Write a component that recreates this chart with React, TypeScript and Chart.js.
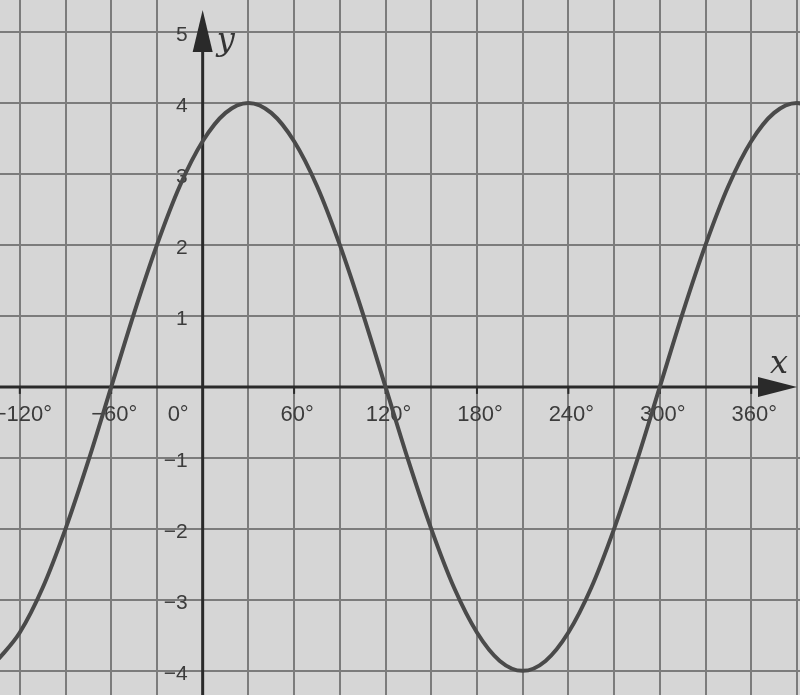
import React, { useEffect, useRef } from "react";
import { Chart, registerables } from "chart.js";

Chart.register(...registerables);

// Curve samples (degrees, y value)
const xDegrees = [-135, -120, -105, -90, -75, -60, -45, -30, -15, 0, 15, 30, 45, 60, 75, 90, 105, 120, 135, 150, 165, 180, 195, 210, 225, 240, 255, 270, 285, 300, 315, 330, 345, 360, 375, 390, 405];
const yValues = [-3.86, -3.46, -2.83, -2.0, -1.04, 0, 1.04, 2.0, 2.83, 3.46, 3.86, 4.0, 3.86, 3.46, 2.83, 2.0, 1.04, 0, -1.04, -2.0, -2.83, -3.46, -3.86, -4.0, -3.86, -3.46, -2.83, -2.0, -1.04, 0, 1.04, 2.0, 2.83, 3.46, 3.86, 4.0, 3.86];

const xTickValues = [-120, -60, 0, 60, 120, 180, 240, 300, 360];
const xTickLabels = ["\u2212120\u00b0", "\u221260\u00b0", "0\u00b0", "60\u00b0", "120\u00b0", "180\u00b0", "240\u00b0", "300\u00b0", "360\u00b0"];
const yTickValues = [5, 4, 3, 2, 1, -1, -2, -3, -4];
const yTickLabels = ["5", "4", "3", "2", "1", "\u22121", "\u22122", "\u22123", "\u22124"];

const X_MIN = -133;
const X_MAX = 392;
const Y_MIN = -4.34;
const Y_MAX = 5.45;

const BG = "#d6d6d6";
const GRID = "#7c7c7c";
const AXIS = "#2a2a2a";
const CURVE = "#4a4a4a";
const TEXT = "#3c3c3c";

const decorPlugin = {
  id: "decor",
  beforeDraw(chart: any) {
    const { ctx, width, height } = chart;
    ctx.save();
    ctx.fillStyle = BG;
    ctx.fillRect(0, 0, width, height);
    ctx.restore();
  },
  beforeDatasetsDraw(chart: any) {
    const { ctx, scales, chartArea } = chart;
    const xs = scales.x;
    const ys = scales.y;
    const ox = xs.getPixelForValue(0);
    const oy = ys.getPixelForValue(0);
    ctx.save();
    // axes
    ctx.strokeStyle = AXIS;
    ctx.fillStyle = AXIS;
    ctx.lineWidth = 3;
    ctx.beginPath();
    ctx.moveTo(chartArea.left, oy);
    ctx.lineTo(chartArea.right - 30, oy);
    ctx.stroke();
    ctx.beginPath();
    ctx.moveTo(ox, chartArea.bottom);
    ctx.lineTo(ox, 40);
    ctx.stroke();
    // x arrow
    ctx.beginPath();
    ctx.moveTo(chartArea.right - 3, oy);
    ctx.lineTo(chartArea.right - 42, oy - 10);
    ctx.lineTo(chartArea.right - 42, oy + 10);
    ctx.closePath();
    ctx.fill();
    // y arrow
    ctx.beginPath();
    ctx.moveTo(ox, 10);
    ctx.lineTo(ox - 10, 52);
    ctx.lineTo(ox + 10, 52);
    ctx.closePath();
    ctx.fill();
    // x tick marks
    ctx.lineWidth = 2;
    xTickValues.forEach((v) => {
      if (v === 0) return;
      const px = xs.getPixelForValue(v);
      ctx.beginPath();
      ctx.moveTo(px, oy);
      ctx.lineTo(px, oy + 7);
      ctx.stroke();
    });
    // labels
    ctx.fillStyle = TEXT;
    ctx.font = '22px "Liberation Sans", Arial, sans-serif';
    ctx.textBaseline = "middle";
    xTickValues.forEach((v, i) => {
      const px = xs.getPixelForValue(v);
      if (v === 0) {
        ctx.textAlign = "right";
        ctx.fillText(xTickLabels[i], ox - 14, oy + 28);
      } else {
        ctx.textAlign = "center";
        ctx.fillText(xTickLabels[i], px + 3, oy + 28);
      }
    });
    ctx.textAlign = "right";
    ctx.font = '21px "Liberation Sans", Arial, sans-serif';
    yTickValues.forEach((v, i) => {
      const py = ys.getPixelForValue(v);
      ctx.fillText(yTickLabels[i], ox - 15, py + 3);
    });
    // axis names
    ctx.font = 'italic 32px "DejaVu Serif", "Liberation Serif", serif';
    ctx.textAlign = "left";
    ctx.fillStyle = "#333333";
    ctx.fillText("y", ox + 14, 42);
    ctx.fillText("x", chartArea.right - 30, oy - 22);
    ctx.restore();
  },
};

export default function App() {
  const canvasRef = useRef<HTMLCanvasElement | null>(null);

  useEffect(() => {
    document.body.style.margin = "0";
    const canvas = canvasRef.current;
    if (!canvas) return;
    const points = xDegrees.map((x, i) => ({ x, y: yValues[i] }));
    const chart = new Chart(canvas, {
      type: "line",
      data: {
        datasets: [
          {
            data: points,
            borderColor: CURVE,
            borderWidth: 4,
            pointRadius: 0,
            cubicInterpolationMode: "monotone",
            fill: false,
          },
        ],
      },
      options: {
        animation: false,
        responsive: true,
        maintainAspectRatio: false,
        layout: { padding: 0 },
        plugins: {
          legend: { display: false },
          tooltip: { enabled: false },
          title: { display: false },
        },
        events: [],
        scales: {
          x: {
            type: "linear",
            min: X_MIN,
            max: X_MAX,
            border: { display: false },
            ticks: { display: false, stepSize: 30, includeBounds: false },
            grid: {
              drawTicks: false,
              tickLength: 0,
              lineWidth: 2,
              color: (c: any) => (c.tick && c.tick.value === 0 ? "rgba(0,0,0,0)" : GRID),
            },
          },
          y: {
            type: "linear",
            min: Y_MIN,
            max: Y_MAX,
            border: { display: false },
            ticks: { display: false, stepSize: 1, includeBounds: false },
            grid: {
              drawTicks: false,
              tickLength: 0,
              lineWidth: 2,
              color: (c: any) => (c.tick && c.tick.value === 0 ? "rgba(0,0,0,0)" : GRID),
            },
          },
        },
      } as any,
      plugins: [decorPlugin],
    });
    return () => chart.destroy();
  }, []);

  return (
    <div style={{ width: 800, height: 695, position: "relative" }}>
      <canvas ref={canvasRef} />
    </div>
  );
}
